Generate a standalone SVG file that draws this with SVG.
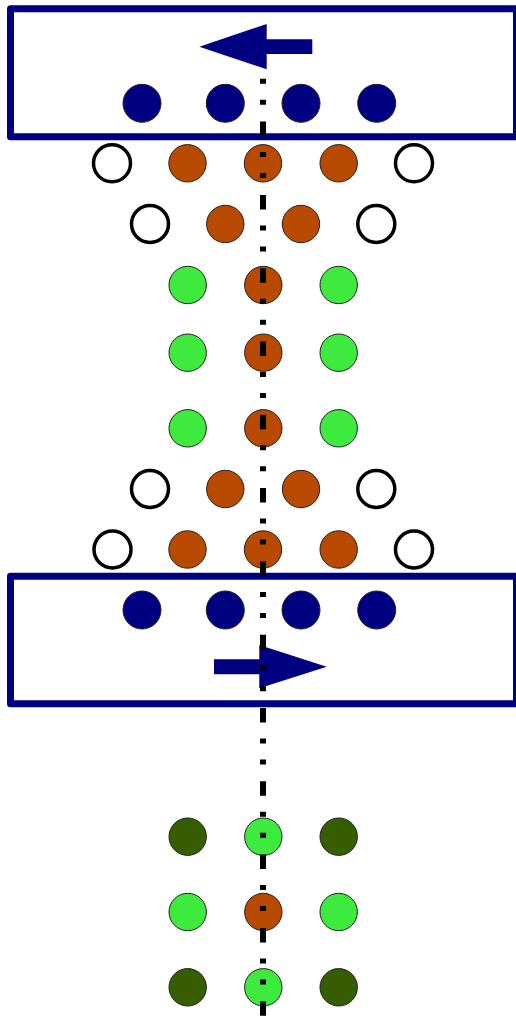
<svg xmlns="http://www.w3.org/2000/svg" width="516" height="1016" viewBox="0 0 516 1016">
  <style>
    .box { fill: none; stroke: #000080; stroke-width: 7; stroke-linejoin: round; }
    .navy { fill: #000080; stroke: #222; stroke-width: 1; }
    .brown { fill: #b84a00; stroke: #222; stroke-width: 1; }
    .green { fill: #3dea3d; stroke: #222; stroke-width: 1; }
    .dkgreen { fill: #365e00; stroke: #222; stroke-width: 1; }
    .open { fill: #fff; stroke: #000; stroke-width: 3.5; }
    .arrow { fill: #000080; stroke: none; }
    .axis { stroke: #000; stroke-width: 6; stroke-dasharray: 14.5 16 5 16 5 16.8; fill: none; }
  </style>
  <rect width="516" height="1016" fill="#fff"/>

  <g id="box-top">
    <rect class="box" x="10.5" y="8.7" width="506" height="128"/>
  </g>
  <g id="box-bottom">
    <rect class="box" x="10.5" y="576.3" width="506" height="127.4"/>
  </g>

  <g id="row-top-navy">
    <circle class="navy" cx="142" cy="103.3" r="19"/>
    <circle class="navy" cx="225.3" cy="103.3" r="19"/>
    <circle class="navy" cx="301" cy="103.3" r="19"/>
    <circle class="navy" cx="376.7" cy="103.3" r="19"/>
  </g>

  <g id="row-1">
    <circle class="open" cx="112" cy="163.3" r="18.5"/>
    <circle class="brown" cx="187.5" cy="163.3" r="18.7"/>
    <circle class="brown" cx="263" cy="163.3" r="18.7"/>
    <circle class="brown" cx="338.7" cy="163.3" r="18.7"/>
    <circle class="open" cx="414" cy="163.3" r="18.5"/>
  </g>
  <g id="row-2">
    <circle class="open" cx="150" cy="224" r="18.5"/>
    <circle class="brown" cx="225.3" cy="224" r="18.7"/>
    <circle class="brown" cx="301" cy="224" r="18.7"/>
    <circle class="open" cx="376.3" cy="224" r="18.5"/>
  </g>
  <g id="row-3">
    <circle class="green" cx="187.7" cy="285" r="18.7"/>
    <circle class="brown" cx="263.3" cy="285" r="18.7"/>
    <circle class="green" cx="338.7" cy="285" r="18.7"/>
  </g>
  <g id="row-4">
    <circle class="green" cx="187.7" cy="352.7" r="18.7"/>
    <circle class="brown" cx="263.3" cy="352.7" r="18.7"/>
    <circle class="green" cx="338.7" cy="352.7" r="18.7"/>
  </g>
  <g id="row-5">
    <circle class="green" cx="187.7" cy="428.3" r="18.7"/>
    <circle class="brown" cx="263.3" cy="428.3" r="18.7"/>
    <circle class="green" cx="338.7" cy="428.3" r="18.7"/>
  </g>
  <g id="row-6">
    <circle class="open" cx="150" cy="489" r="18.5"/>
    <circle class="brown" cx="225.3" cy="489" r="18.7"/>
    <circle class="brown" cx="301" cy="489" r="18.7"/>
    <circle class="open" cx="376.3" cy="489" r="18.5"/>
  </g>
  <g id="row-7">
    <circle class="open" cx="112.5" cy="549.5" r="18.5"/>
    <circle class="brown" cx="187.5" cy="549.5" r="18.7"/>
    <circle class="brown" cx="263" cy="549.5" r="18.7"/>
    <circle class="brown" cx="338.7" cy="549.5" r="18.7"/>
    <circle class="open" cx="414" cy="549.5" r="18.5"/>
  </g>

  <g id="row-bottom-navy">
    <circle class="navy" cx="142" cy="610" r="19"/>
    <circle class="navy" cx="225.3" cy="610" r="19"/>
    <circle class="navy" cx="301" cy="610" r="19"/>
    <circle class="navy" cx="376.7" cy="610" r="19"/>
  </g>

  <g id="row-8">
    <circle class="dkgreen" cx="187.7" cy="836.7" r="18.7"/>
    <circle class="green" cx="263.3" cy="836.7" r="18.7"/>
    <circle class="dkgreen" cx="338.7" cy="836.7" r="18.7"/>
  </g>
  <g id="row-9">
    <circle class="green" cx="187.7" cy="912" r="18.7"/>
    <circle class="brown" cx="263.3" cy="912" r="18.7"/>
    <circle class="green" cx="338.7" cy="912" r="18.7"/>
  </g>
  <g id="row-10">
    <circle class="dkgreen" cx="187.7" cy="987.3" r="18.7"/>
    <circle class="green" cx="263.3" cy="987.3" r="18.7"/>
    <circle class="dkgreen" cx="338.7" cy="987.3" r="18.7"/>
  </g>

  <g id="arrow-bottom">
    <polygon class="arrow" points="214,659.3 259.3,659.3 259.3,645 326.7,666.7 259.3,688.3 259.3,674.3 214,674.3"/>
  </g>

  <g id="connectors">
    <line class="axis" x1="263" y1="48.3" x2="263" y2="1016"/>
  </g>

  <g id="arrow-top">
    <polygon class="arrow" points="312.3,39.3 266.7,39.3 266.7,24 199.3,46.7 266.7,69.3 266.7,54 312.3,54"/>
  </g>
</svg>
